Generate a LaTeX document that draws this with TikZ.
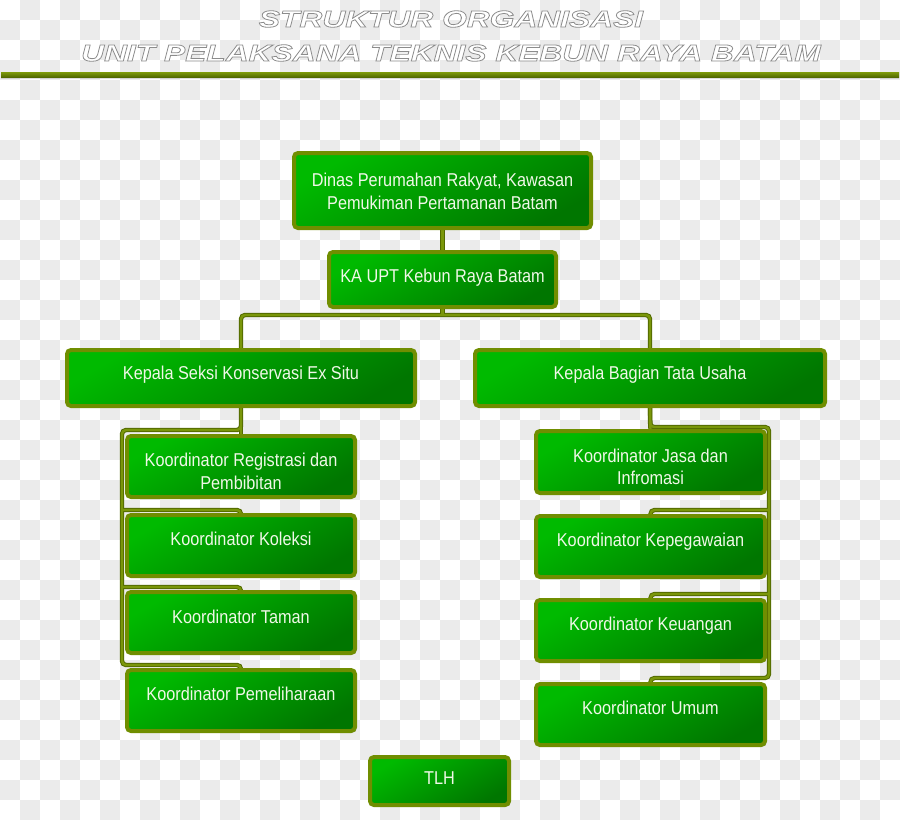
\documentclass[tikz,border=0pt]{standalone}
\usepackage{fontspec}
\setmainfont{Liberation Sans}[FakeStretch=0.875]
\newfontfamily\titlefont{Liberation Sans}[FakeStretch=1.35]
\usetikzlibrary{shadows}
\definecolor{chk}{RGB}{235,235,235}
\definecolor{gA}{RGB}{0,186,0}
\definecolor{gB}{RGB}{0,118,0}
\definecolor{olv}{RGB}{112,142,0}
\definecolor{olvd}{RGB}{82,106,0}
\definecolor{olvl}{RGB}{122,150,10}
\definecolor{txw}{RGB}{240,248,232}
\pgfdeclarelayer{chk}
\pgfdeclarelayer{lines}
\pgfsetlayers{chk,lines,main}
\newcommand\otext[1]{\leavevmode\special{pdf:literal direct q 0.55 G 0.8 w 2 Tr}#1\special{pdf:literal direct 0 Tr Q}}
\newcommand\drawconns{%
  \draw[conn] (dinas.south) -- (ka.north);
  \draw[conn] (ka.south) -- (kbus);
  \draw[conn] (seksi.north) |- (kbus) -| (bagian.north);
  \draw[conn] (seksi.south) -- (reg.north);
  \draw[conn] (seksi.south) |- (Lsp) |- (pemj) -- (pem.north);
  \draw[conn] (Lsp |- kolj) -| (kol.north);
  \draw[conn] (Lsp |- tamj) -| (tam.north);
  \draw[conn] (bagian.south) -- (jasa.north);
  \draw[conn] (bagian.south) |- (Rsp) |- (umj) -- (umum.north);
  \draw[conn] (Rsp |- kepj) -| (kep.north);
  \draw[conn] (Rsp |- keuj) -| (keu.north);
}
\begin{document}
\begin{tikzpicture}[x=1pt,y=-1pt,
  box/.style={draw=olv, line width=4pt, rounded corners=4pt, top color=gA, bottom color=gB,
    shading angle=30, inner sep=0pt, outer sep=0pt,
    drop shadow={shadow xshift=1.5pt, shadow yshift=-1.5pt, opacity=0.3, fill=black}},
  txt/.style={text=txw, font=\fontsize{18.6}{22.5}\selectfont, align=center, inner sep=0pt},
  txt1/.style={txt, text height=13.3pt, text depth=0pt},
  txt2/.style={txt, text height=35.8pt, text depth=0pt},
  titl/.style={font=\titlefont\bfseries\itshape\fontsize{23.5}{26}\selectfont, inner sep=0pt, text=white},
  cout/.style={draw=olvd, line width=4.4pt, rounded corners=4pt},
  cin/.style={draw=olvl, line width=2.4pt, rounded corners=4pt},
  conn/.style=cout]
\useasboundingbox (0,0) rectangle (900,820);
\begin{pgfonlayer}{chk}
  \fill[white] (0,0) rectangle (900,820);
  \foreach \i in {0,2,...,44} \foreach \j in {1,3,...,39} \fill[chk] (\i*20,\j*20) rectangle +(20,20);
  \foreach \i in {1,3,...,43} \foreach \j in {0,2,...,40} \fill[chk] (\i*20,\j*20) rectangle +(20,20);
\end{pgfonlayer}
% title
\node[titl] (t1) at (451,19) {\otext{STRUKTUR ORGANISASI}};
\node[titl] (t2) at (451,53) {\otext{UNIT PELAKSANA TEKNIS KEBUN RAYA BATAM}};
\fill[black, opacity=0.12] (1,76) rectangle (899,79);
\fill[top color=olvl, bottom color=olvd] (1,72.5) rectangle (899,77);
% boxes
\node[box, minimum width=297pt, minimum height=75pt] (dinas) at (442.5,190.5) {};
\node[box, minimum width=227pt, minimum height=55pt] (ka) at (442.5,279.5) {};
\node[box, minimum width=348pt, minimum height=56pt] (seksi) at (241,378) {};
\node[box, minimum width=350pt, minimum height=56pt] (bagian) at (650,378) {};
\node[box, minimum width=228pt, minimum height=61pt] (reg) at (241,466.5) {};
\node[box, minimum width=228pt, minimum height=61pt] (kol) at (241,545.5) {};
\node[box, minimum width=228pt, minimum height=61pt] (tam) at (241,622.5) {};
\node[box, minimum width=228pt, minimum height=61pt] (pem) at (241,700.5) {};
\node[box, minimum width=229pt, minimum height=62pt] (jasa) at (650.5,462) {};
\node[box, minimum width=229pt, minimum height=61pt] (kep) at (650.5,546.5) {};
\node[box, minimum width=229pt, minimum height=61pt] (keu) at (650.5,630.5) {};
\node[box, minimum width=229pt, minimum height=61pt] (umum) at (650.5,714.5) {};
\node[box, minimum width=139pt, minimum height=48pt] (tlh) at (439.5,781) {};
% texts
\node[txt2] (dinas-t) at (442.5,191.5) {Dinas Perumahan Rakyat, Kawasan\\Pemukiman Pertamanan Batam};
\node[txt1] (ka-t) at (442.5,275.5) {KA UPT Kebun Raya Batam};
\node[txt1] (seksi-t) at (241,373.3) {Kepala Seksi Konservasi Ex Situ};
\node[txt1] (bagian-t) at (650,373.3) {Kepala Bagian Tata Usaha};
\node[txt2] (reg-t) at (241,471.5) {Koordinator Registrasi dan\\Pembibitan};
\node[txt1] (kol-t) at (241,539) {Koordinator Koleksi};
\node[txt1] (tam-t) at (241,616.7) {Koordinator Taman};
\node[txt1] (pem-t) at (241,694.3) {Koordinator Pemeliharaan};
\node[txt2] (jasa-t) at (650.5,467) {Koordinator Jasa dan\\Infromasi};
\node[txt1] (kep-t) at (650.5,540) {Koordinator Kepegawaian};
\node[txt1] (keu-t) at (650.5,624) {Koordinator Keuangan};
\node[txt1] (umum-t) at (650.5,708.3) {Koordinator Umum};
\node[txt1] (tlh-t) at (439.5,778.3) {TLH};
% connector helper points
\coordinate (kbus) at (442.5,315);
\coordinate (Lsp) at (122,430);
\coordinate (Rsp) at (769,427);
\coordinate (kolj) at ([yshift=5pt]kol.north);
\coordinate (tamj) at ([yshift=5pt]tam.north);
\coordinate (pemj) at ([yshift=5pt]pem.north);
\coordinate (kepj) at ([yshift=6pt]kep.north);
\coordinate (keuj) at ([yshift=6pt]keu.north);
\coordinate (umj) at ([yshift=6pt]umum.north);
\begin{pgfonlayer}{lines}
  \tikzset{conn/.style=cout}\drawconns
  \tikzset{conn/.style=cin}\drawconns
\end{pgfonlayer}
\end{tikzpicture}
\end{document}
